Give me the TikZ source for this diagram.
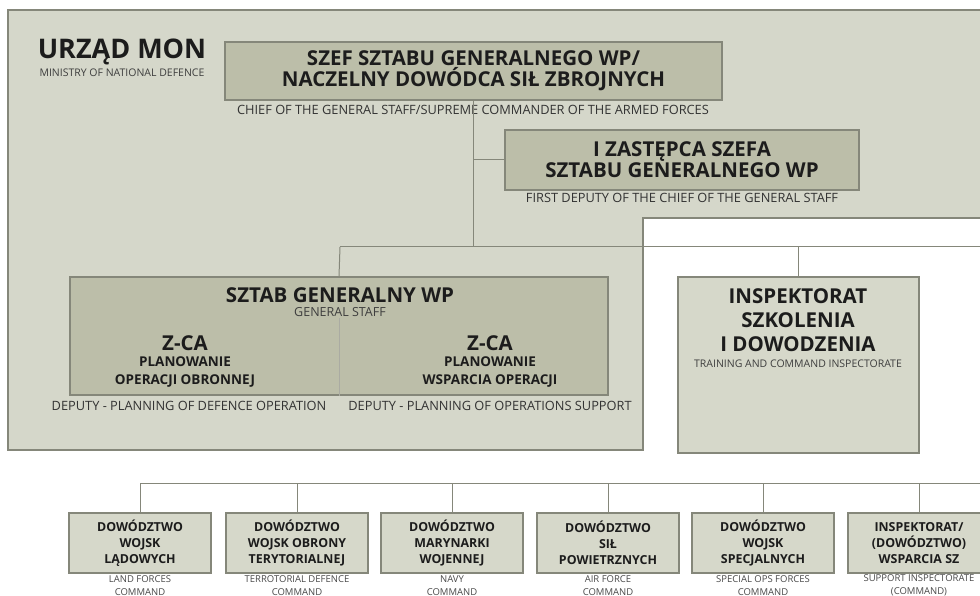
\documentclass[tikz,border=0pt]{standalone}
\usepackage{fontspec}
\setmainfont{Open Sans}
\usetikzlibrary{positioning}
\definecolor{panelgry}{HTML}{D5D7CA}
\definecolor{boxolv}{HTML}{BCBEA9}
\definecolor{boxlgt}{HTML}{D6D8CA}
\definecolor{edgegry}{HTML}{85877A}
\definecolor{txtdark}{HTML}{1C1C1C}
\tikzset{
    line/.style={draw=edgegry,line width=1pt},
    divider/.style={draw=edgegry!70,line width=.6pt},
    panel/.style={fill=panelgry,draw=edgegry,line width=1.5pt},
    recolv/.style={draw=edgegry,fill=boxolv,line width=1.2pt,inner sep=0pt,align=center,text=txtdark},
    reclgt/.style={draw=edgegry,fill=boxlgt,line width=1.2pt,inner sep=0pt,align=center,text=txtdark},
    head/.style={inner sep=0pt,align=center,text=txtdark,font=\bfseries\fontsize{20.5}{21}\selectfont},
    zcatext/.style={inner sep=0pt,align=center,text=txtdark,font=\bfseries\fontsize{13.5}{18}\selectfont},
    sub/.style={inner sep=0pt,align=center,text=txtdark!85,font=\fontsize{10.5}{11}\selectfont},
    caption/.style={inner sep=0pt,align=center,text=txtdark!90,font=\fontsize{12.8}{13}\selectfont},
    cmdbox/.style={reclgt,minimum width=142pt,minimum height=60pt,font=\bfseries\fontsize{12.4}{16}\selectfont},
    cmdcap/.style={inner sep=0pt,align=center,text=txtdark!80,font=\fontsize{9.5}{13}\selectfont}
}
\begin{document}
\begin{tikzpicture}[x=1pt,y=-1pt]
        \useasboundingbox (0,0) rectangle (980,596);
        \fill[white] (0,0) rectangle (980,596);
        % ministry panel
        \draw[panel] (8,10) -- (990,10) -- (990,218) -- (643,218) -- (643,450) -- (8,450) -- cycle;

        \node[inner sep=0pt,text=txtdark,font=\bfseries\fontsize{27}{30}\selectfont] (mon) at (122,52) {URZĄD MON};
        \node[sub] (monsub) at (122,73) {MINISTRY OF NATIONAL DEFENCE};

        \node[recolv,minimum width=497pt,minimum height=58pt,head] (chief) at (473.5,71) {SZEF SZTABU GENERALNEGO WP/\\NACZELNY DOWÓDCA SIŁ ZBROJNYCH};
        \node[caption] (chiefcap) at (473,110) {CHIEF OF THE GENERAL STAFF/SUPREME COMMANDER OF THE ARMED FORCES};
        \node[recolv,minimum width=354pt,minimum height=60pt,head] (dep) at (682,160) {I ZASTĘPCA SZEFA\\SZTABU GENERALNEGO WP};
        \node[caption] (depcap) at (682,198) {FIRST DEPUTY OF THE CHIEF OF THE GENERAL STAFF};

        \node[recolv,minimum width=538pt,minimum height=118pt] (gs) at (339,336) {};
        \node[head] (gstitle) at (340,295) {SZTAB GENERALNY WP};
        \node[sub,font=\fontsize{12.5}{13}\selectfont] (gssub) at (340,312) {GENERAL STAFF};
        \node[head] (zcal) at (185,343) {Z-CA};
        \node[zcatext] (plnl) at (185,372) {PLANOWANIE\\OPERACJI OBRONNEJ};
        \node[head] (zcar) at (490,343) {Z-CA};
        \node[zcatext] (plnr) at (490,372) {PLANOWANIE\\WSPARCIA OPERACJI};
        \node[caption] (gscapl) at (189,406) {DEPUTY - PLANNING OF DEFENCE OPERATION};
        \node[caption] (gscapr) at (490,406) {DEPUTY - PLANNING OF OPERATIONS SUPPORT};

        \node[reclgt,minimum width=241pt,minimum height=176pt] (isd) at (798.5,365) {};
        \node[head,font=\bfseries\fontsize{20.5}{24}\selectfont] (isdtitle) at (798,320) {INSPEKTORAT\\SZKOLENIA\\I DOWODZENIA};
        \node[sub] (isdsub) at (798,364) {TRAINING AND COMMAND INSPECTORATE};

        % commands
        \node[cmdbox] (dwl) at (140,543) {DOWÓDZTWO\\WOJSK\\LĄDOWYCH};
        \node[cmdbox] (dwot) at (297,543) {DOWÓDZTWO\\WOJSK OBRONY\\TERYTORIALNEJ};
        \node[cmdbox] (dmw) at (452,543) {DOWÓDZTWO\\MARYNARKI\\WOJENNEJ};
        \node[cmdbox] (dsp) at (608,543) {DOWÓDZTWO\\SIŁ\\POWIETRZNYCH};
        \node[cmdbox] (dws) at (763,543) {DOWÓDZTWO\\WOJSK\\SPECJALNYCH};
        \node[cmdbox] (iwsz) at (919,543) {INSPEKTORAT/\\(DOWÓDZTWO)\\WSPARCIA SZ};
        \node[cmdcap] (dwlcap) at (140,585.5) {LAND FORCES\\COMMAND};
        \node[cmdcap] (dwotcap) at (297,585.5) {TERROTORIAL DEFENCE\\COMMAND};
        \node[cmdcap] (dmwcap) at (452,585.5) {NAVY\\COMMAND};
        \node[cmdcap] (dspcap) at (608,585.5) {AIR FORCE\\COMMAND};
        \node[cmdcap] (dwscap) at (763,585.5) {SPECIAL OPS FORCES\\COMMAND};
        \node[cmdcap] (iwszcap) at (919,585.5) {SUPPORT INSPECTORATE\\(COMMAND)};

        \coordinate (busw) at (340,247);
        \coordinate (buse) at (990,247);
        \coordinate (cmdw) at (140,483);
        \coordinate (cmde) at (990,483);

        \begin{scope}
            \draw[line] (chief.south) -- (chief.south |- busw);
            \draw[line] (chief.south |- dep.west) -- (dep.west);
            \draw[line] (busw) -- (buse);
            \draw[line] (busw) -- (gs.north);
            \draw[line] (isd.north |- busw) -- (isd.north);
            \draw[divider] ([yshift=-42pt]gs.north) -- (gs.south);
            \draw[line] (cmdw) -- (cmde);
            \draw[line] (cmdw) -- (dwl.north);
            \draw[line] (dwot.north |- cmdw) -- (dwot.north);
            \draw[line] (dmw.north |- cmdw) -- (dmw.north);
            \draw[line] (dsp.north |- cmdw) -- (dsp.north);
            \draw[line] (dws.north |- cmdw) -- (dws.north);
            \draw[line] (iwsz.north |- cmdw) -- (iwsz.north);
        \end{scope}
    \end{tikzpicture}
\end{document}
